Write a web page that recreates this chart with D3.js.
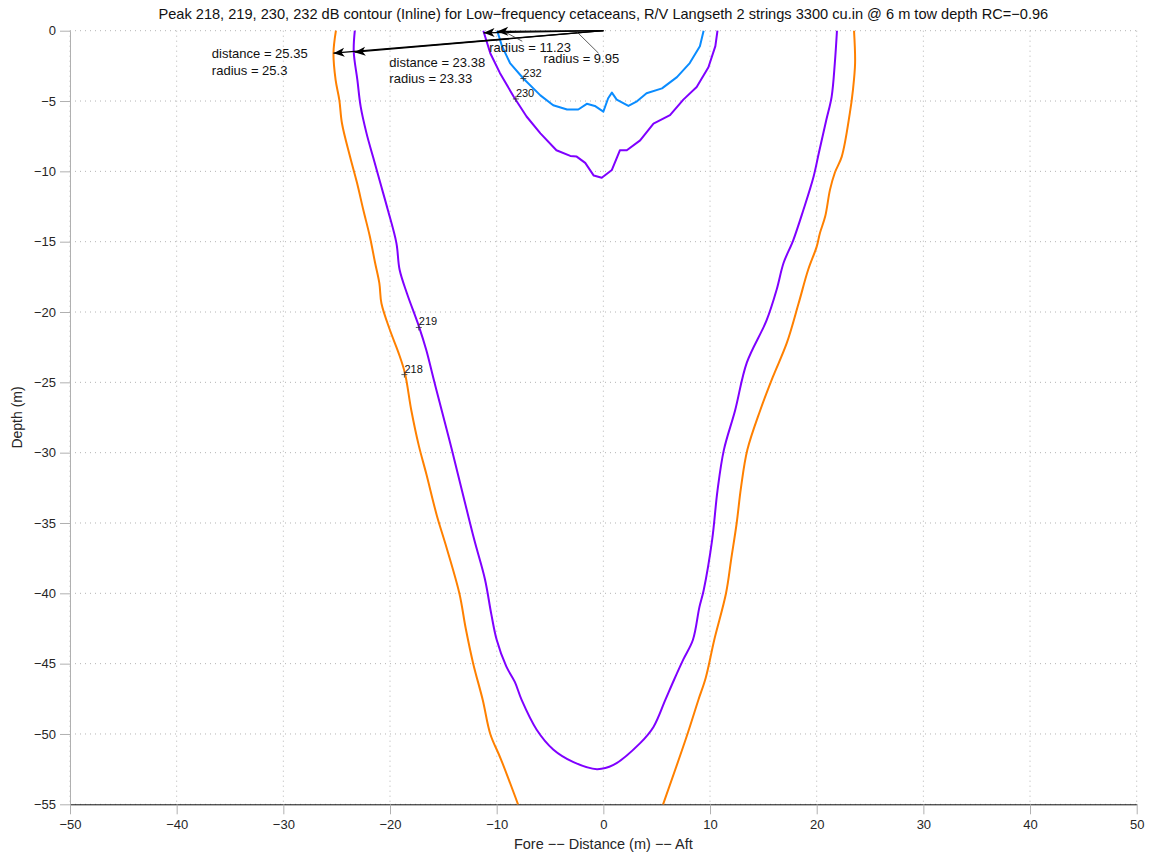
<!DOCTYPE html>
<html>
<head>
<meta charset="utf-8">
<script src="https://cdn.jsdelivr.net/npm/d3@7"></script>
<style>
  body { margin: 0; background: #fff; }
  text { font-family: "Liberation Sans", Arial, sans-serif; }
  .grid line { stroke: #b4b4b4; stroke-width: 1; stroke-dasharray: 1,4; }
  .axis text { font-size: 13px; fill: #262626; }
  .yaxis path, .yaxis line { stroke: #b0b0b0; }
  .xaxis path { stroke: #111; }
  .xaxis line { stroke: #b0b0b0; }
  .contour { fill: none; stroke-width: 2; stroke-linejoin: round; }
  .note { font-size: 13px; fill: #111; }
  .clabel { font-size: 11px; fill: #111; }
</style>
</head>
<body>
<svg width="1149" height="855"></svg>
<script>
//************************* DATA ***************************//

var xTicks = [-50, -40, -30, -20, -10, 0, 10, 20, 30, 40, 50];
var yTicks = [0, -5, -10, -15, -20, -25, -30, -35, -40, -45, -50, -55];

// 218 dB contour, two branches cut by the bottom of the plot
var c218Left = [[-25.07,0],[-25.3,-1.6],[-25.1,-3.5],[-24.75,-4.93],[-24.5,-6.6],[-23.75,-8.95],[-23.1,-10.8],
  [-22.5,-12.75],[-21.9,-14.6],[-21.4,-16.5],[-21.0,-17.95],[-20.8,-19.4],[-20.0,-21.3],[-19.2,-22.9],
  [-18.6,-24.35],[-18.0,-27.0],[-17.3,-29.5],[-16.6,-31.5],[-15.6,-34.5],[-14.8,-36.5],[-13.5,-40.0],
  [-12.9,-42.5],[-12.2,-45.0],[-11.3,-47.6],[-10.6,-50.0],[-9.6,-51.8],[-8.0,-55.0]];
var c218Right = [[23.5,0],[23.6,-2.3],[23.4,-4.2],[23.1,-5.9],[22.35,-8.95],[21.7,-10.1],[21.25,-11.3],
  [20.8,-13.2],[20.3,-14.4],[20.0,-15.35],[19.2,-17.0],[18.3,-19.4],[17.2,-22.2],[15.9,-24.6],[14.7,-27.0],
  [13.5,-29.8],[12.9,-32.5],[12.5,-35.0],[12.0,-37.5],[11.5,-40.0],[10.4,-43.3],[9.6,-46.0],[8.9,-47.6],
  [7.8,-50.2],[5.6,-55.0]];

// 219 dB contour
var c219 = [[-23.3,0],[-23.4,-1.5],[-23.06,-3.5],[-22.75,-5.4],[-22.2,-7.3],[-21.6,-8.95],[-20.9,-10.85],
  [-20.2,-12.75],[-19.4,-15.1],[-19.1,-17.0],[-18.4,-18.7],[-17.3,-21.0],[-16.6,-22.7],[-15.9,-24.8],
  [-15.15,-27.0],[-14.2,-29.8],[-13.25,-32.7],[-12.1,-36.2],[-11.1,-39.0],[-10.5,-41.5],[-10.0,-43.3],
  [-9.1,-45.2],[-8.3,-46.3],[-7.65,-47.6],[-6.25,-49.7],[-4.7,-51.1],[-2.8,-52.0],[-0.6,-52.5],[0.95,-52.2],
  [3.45,-50.65],[4.7,-49.5],[5.8,-47.6],[6.6,-46.2],[7.5,-44.7],[8.4,-43.3],[9.0,-41.0],[9.4,-39.8],
  [10.2,-36.2],[10.7,-32.7],[11.3,-29.8],[12.35,-27.0],[13.45,-23.6],[15.3,-20.6],[16.25,-18.4],[16.9,-16.5],
  [17.8,-14.9],[18.75,-12.75],[19.7,-10.4],[20.2,-8.7],[20.9,-6.35],[21.4,-4.7],[21.7,-2.3],[21.9,0]];

// 230 dB contour
var c230 = [[-11.25,0],[-10.6,-1.6],[-9.7,-3.0],[-8.4,-4.7],[-7.2,-6.1],[-5.9,-7.3],[-4.4,-8.5],[-3.1,-8.9],
  [-2.5,-8.95],[-1.7,-9.4],[-0.9,-10.3],[-0.15,-10.45],[0.8,-9.9],[1.55,-8.5],[2.2,-8.5],[3.45,-7.8],
  [4.7,-6.6],[6.25,-6.0],[7.5,-4.9],[8.75,-4.0],[9.85,-2.6],[10.5,-1.1],[10.7,0]];

// 232 dB contour
var c232 = [[-9.95,0],[-9.5,-1.1],[-8.75,-2.3],[-7.5,-3.4],[-5.9,-4.6],[-4.7,-5.3],[-3.4,-5.6],[-2.35,-5.6],
  [-1.55,-5.2],[-0.8,-5.35],[0,-5.75],[0.45,-4.8],[0.8,-4.4],[1.25,-4.9],[2.35,-5.35],[3.1,-5.05],
  [4.05,-4.45],[5.5,-4.1],[6.9,-3.3],[8.1,-2.3],[9.05,-1.1],[9.4,0]];

// contour labels (level, position of the + marker)
var labelLevels = [232, 230, 219, 218];
var labelPoints = [[-7.5,-3.4], [-8.2,-4.85], [-17.3,-21.1], [-18.65,-24.45]];

// arrows from the source to the measured points
var arrowEnds = [[-25.3,-1.6], [-23.33,-1.53], [-11.23,-0.15], [-9.95,-0.05]];
var noteTexts = ["distance = 25.35", "radius = 25.3", "distance = 23.38", "radius = 23.33", "radius = 11.23", "radius = 9.95"];
var notePoints = [[-36.7,-1.94], [-36.7,-3.15], [-20.06,-2.56], [-20.06,-3.74], [-10.7,-1.49], [-5.6,-2.32]];

//************************* CHART ***************************//

var svg = d3.select("svg"),
    width = +svg.attr("width"),
    height = +svg.attr("height");

var margin = {top: 30.7, right: 12.3, bottom: 50.7, left: 70};

var x = d3.scaleLinear()
    .domain([-50, 50])
    .range([margin.left, width - margin.right]);
var y = d3.scaleLinear()
    .domain([-55, 0])
    .range([height - margin.bottom, margin.top]);

// grid
var grid = svg.append("g").attr("class", "grid");
grid.selectAll(".gx").data(xTicks).enter().append("line")
    .attr("x1", function(d) { return x(d); })
    .attr("x2", function(d) { return x(d); })
    .attr("y1", y(0)).attr("y2", y(-55));
grid.selectAll(".gy").data(yTicks).enter().append("line")
    .attr("x1", x(-50)).attr("x2", x(50))
    .attr("y1", function(d) { return y(d); })
    .attr("y2", function(d) { return y(d); });

// axes
svg.append("g")
    .attr("class", "axis yaxis")
    .attr("transform", "translate(" + x(-50) + ",0)")
    .call(d3.axisLeft(y).tickValues(yTicks).tickSizeInner(10).tickSizeOuter(0).tickPadding(4));
svg.append("g")
    .attr("class", "axis xaxis")
    .attr("transform", "translate(0," + y(-55) + ")")
    .call(d3.axisBottom(x).tickValues(xTicks).tickSizeInner(10).tickSizeOuter(0).tickPadding(5));

// contours - the big ones are smooth, the small ones keep their kinks
var smooth = d3.line()
    .curve(d3.curveCatmullRom.alpha(0.5))
    .x(function(d) { return x(d[0]); })
    .y(function(d) { return y(d[1]); });
var straight = d3.line()
    .x(function(d) { return x(d[0]); })
    .y(function(d) { return y(d[1]); });

var contours = [
  {data: c218Left, color: "#ff8000", line: smooth},
  {data: c218Right, color: "#ff8000", line: smooth},
  {data: c219, color: "#7f00ff", line: smooth},
  {data: c230, color: "#7f00ff", line: straight},
  {data: c232, color: "#0a8cff", line: straight}
];
svg.append("g").selectAll("path")
    .data(contours)
    .enter().append("path")
      .attr("class", "contour")
      .attr("stroke", function(d) { return d.color; })
      .attr("d", function(d) { return d.line(d.data); });

// contour labels with + markers
var lab = svg.append("g").selectAll("g")
    .data(labelLevels)
    .enter().append("g")
      .attr("transform", function(d, i) {
        return "translate(" + x(labelPoints[i][0]) + "," + y(labelPoints[i][1]) + ")";
      });
lab.append("path")
    .attr("d", "M-3,0H3M0,-3V3")
    .attr("stroke", "#333")
    .attr("stroke-width", 0.8);
lab.append("text")
    .attr("class", "clabel")
    .attr("x", 0)
    .attr("y", -2)
    .text(function(d) { return d; });

// arrows
svg.append("defs").append("marker")
    .attr("id", "head")
    .attr("viewBox", "-12 -6 14 12")
    .attr("refX", 0).attr("refY", 0)
    .attr("markerWidth", 14).attr("markerHeight", 12)
    .attr("markerUnits", "userSpaceOnUse")
    .attr("orient", "auto")
  .append("path")
    .attr("d", "M0,0L-11,-4.5L-8,0L-11,4.5Z")
    .attr("fill", "#000");

svg.append("g").selectAll("line")
    .data(arrowEnds)
    .enter().append("line")
      .attr("x1", x(0)).attr("y1", y(0))
      .attr("x2", function(d) { return x(d[0]); })
      .attr("y2", function(d) { return y(d[1]); })
      .attr("stroke", "#000")
      .attr("stroke-width", 1.3)
      .attr("marker-end", "url(#head)");

// leader lines for the small radius notes
svg.append("line")
    .attr("x1", x(-2.5)).attr("y1", y(-0.07))
    .attr("x2", x(-0.45)).attr("y2", y(-1.6))
    .attr("stroke", "#333").attr("stroke-width", 0.8);
svg.append("line")
    .attr("x1", x(-9.2)).attr("y1", y(-0.1))
    .attr("x2", x(-7.6)).attr("y2", y(-0.75))
    .attr("stroke", "#333").attr("stroke-width", 0.8);

// notes
svg.append("g").selectAll("text")
    .data(noteTexts)
    .enter().append("text")
      .attr("class", "note")
      .attr("x", function(d, i) { return x(notePoints[i][0]); })
      .attr("y", function(d, i) { return y(notePoints[i][1]); })
      .text(function(d) { return d; });

// title and axis labels
svg.append("text")
    .attr("x", (x(-50) + x(50)) / 2)
    .attr("y", 19)
    .attr("text-anchor", "middle")
    .style("font-size", "14.6px")
    .style("fill", "#111")
    .text("Peak 218, 219, 230, 232 dB contour (Inline) for Low\u2212frequency cetaceans, R/V Langseth 2 strings 3300 cu.in @ 6 m tow depth RC=\u22120.96");

svg.append("text")
    .attr("x", (x(-50) + x(50)) / 2)
    .attr("y", 849)
    .attr("text-anchor", "middle")
    .style("font-size", "14.5px")
    .style("fill", "#262626")
    .text("Fore \u2212\u2212 Distance (m) \u2212\u2212 Aft");

svg.append("text")
    .attr("transform", "translate(22," + (y(0) + y(-55)) / 2 + ") rotate(-90)")
    .attr("text-anchor", "middle")
    .style("font-size", "14px")
    .style("fill", "#262626")
    .text("Depth (m)");
</script>
</body>
</html>
